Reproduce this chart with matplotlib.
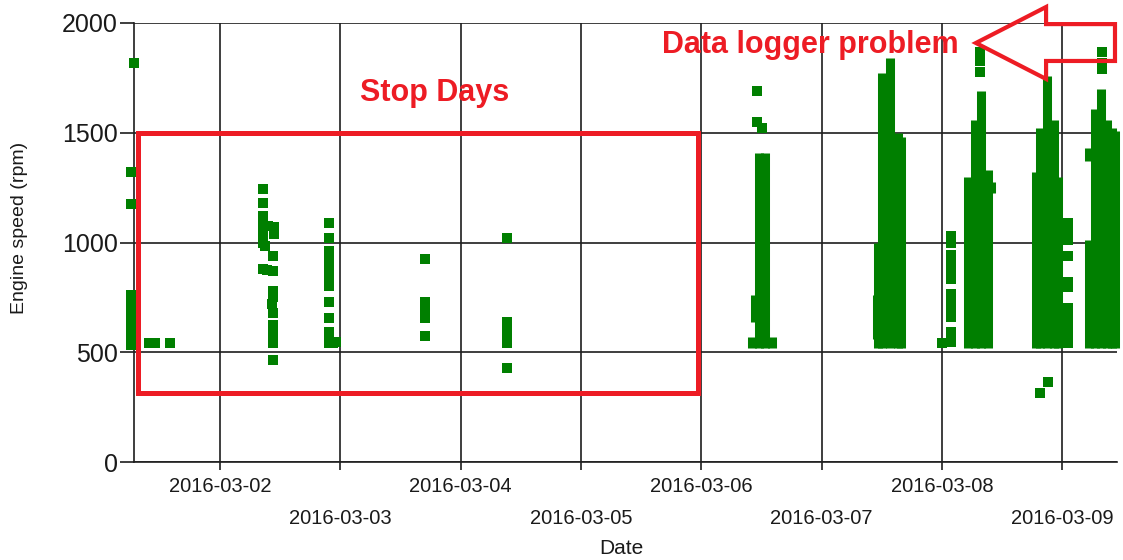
"""
Engine speed log, 2016-03-01 .. 2016-03-09
Scatter of engine rpm against date with the stop days and the logger fault marked.
"""
import numpy as np
import pandas as pd
import matplotlib
matplotlib.use("Agg")
import matplotlib.pyplot as plt
import matplotlib.dates as mdates
from matplotlib.patches import Polygon, Rectangle

START = pd.Timestamp("2016-03-01 00:00")

# single readings: hours after START, engine speed
pt_hours = [6.8, 6.2, 6.2, 6.2, 6.2, 6.2, 6.2, 6.2, 6.2, 6.2, 9.8, 11.0, 14.0,
            32.6, 32.6, 32.6, 32.6, 32.6, 32.6, 32.6, 33.0, 33.6, 34.8, 34.8, 32.6,
            33.4, 34.5, 34.6, 34.6, 34.6, 34.4, 34.6, 34.6, 34.6, 34.6, 34.6, 34.6,
            45.7, 45.7, 45.7, 45.7, 45.7, 45.7, 45.7, 45.7, 45.7, 45.7, 45.7, 45.7,
            45.7, 46.6, 47.1,
            64.9, 64.9, 64.9, 64.9, 64.9, 64.9,
            81.3, 81.3, 81.3, 81.3, 81.3, 81.3, 81.3,
            131.1, 131.1, 132.1,
            169.8, 169.8, 169.8, 169.8, 169.8, 169.8, 169.8, 169.8, 169.8, 169.8,
            169.8, 169.8, 169.8, 169.8, 168.0,
            175.6, 175.6, 175.6,
            187.6, 189.2,
            193.2, 193.2, 193.2, 193.2, 193.2, 193.2, 193.2, 193.2, 193.2, 193.2,
            193.2, 193.2,
            199.9, 199.9, 199.9]
pt_rpm = [1820, 1320, 1175, 760, 720, 680, 640, 600, 560, 535, 540, 540, 540,
          1245, 1180, 1120, 1090, 1060, 1030, 1000, 985, 1075, 1070, 1040, 880,
          875, 870, 940, 780, 750, 720, 680, 625, 580, 560, 540, 465,
          1090, 1020, 960, 930, 900, 870, 845, 800, 730, 655, 590, 555,
          540, 540, 548,
          925, 730, 705, 680, 655, 575,
          1020, 640, 620, 600, 565, 540, 430,
          1690, 1550, 1520,
          1030, 1000, 945, 925, 880, 860, 835, 765, 735, 700,
          660, 590, 560, 545, 540,
          1870, 1825, 1775,
          314, 364,
          1090, 1055, 1010, 940, 820, 795, 700, 665, 620, 580,
          555, 540,
          1870, 1820, 1790]

# dense running periods (overplotted readings): hours, lowest rpm, highest rpm
band_hours = [131.5, 132.7, 130.1, 134.1, 130.8,
              155.3, 156.1, 157.7, 159.3, 159.9, 155.1,
              173.2, 174.6, 175.8, 177.2, 177.8,
              186.8, 187.6, 189.0, 190.4, 191.2,
              197.4, 197.4, 198.6, 199.8, 201.0, 202.0, 202.5]
band_low = [520, 520, 520, 520, 640,
            520, 520, 520, 520, 520, 560,
            520, 520, 520, 520, 1225,
            520, 520, 520, 520, 520,
            520, 1370, 520, 520, 520, 520, 520]
band_high = [1410, 1410, 570, 570, 760,
             1000, 1770, 1840, 1500, 1480, 760,
             1300, 1560, 1690, 1330, 1275,
             1320, 1520, 1760, 1560, 1300,
             1010, 1430, 1610, 1700, 1560, 1520, 1510]

day_ticks = ["2016-03-02", "2016-03-03", "2016-03-04", "2016-03-05",
             "2016-03-06", "2016-03-07", "2016-03-08", "2016-03-09"]
rpm_ticks = [0, 500, 1000, 1500, 2000]


def _t(hours):
    return START + pd.to_timedelta(np.asarray(hours, dtype=float), unit="h")


def _n(hours):
    return mdates.date2num(_t([hours]))[0]


def main():
    plt.rcParams["font.family"] = ["Liberation Sans", "DejaVu Sans"]
    green = "#007f00"
    red = "#ed1c24"
    grid = "#1e1e1e"

    fig = plt.figure(figsize=(11.23, 5.6), dpi=100)
    ax = fig.add_axes([134 / 1123, 1 - 462 / 560, 983 / 1123, 439 / 560])

    ax.set_xlim(_t([6.84])[0], _t([202.95])[0])
    ax.set_ylim(0, 2000)

    ax.vlines(_t(band_hours), band_low, band_high, colors=green,
              linewidth=6.5, capstyle="butt", zorder=3, clip_on=False)
    ax.plot(_t(pt_hours), pt_rpm, "s", color=green, ms=6.5, mew=0,
            zorder=3, clip_on=False)

    # x axis: one tick per day, labels staggered over two rows
    days = pd.to_datetime(day_ticks)
    ax.set_xticks(days[0::2])
    ax.set_xticklabels(day_ticks[0::2])
    ax.set_xticks(days[1::2], minor=True)
    ax.set_xticklabels(day_ticks[1::2], minor=True)
    ax.tick_params(axis="x", which="major", length=6, width=1.2, color=grid,
                   pad=5, labelsize=14.5, labelcolor="#1a1a1a")
    ax.tick_params(axis="x", which="minor", length=6, width=1.2, color=grid,
                   pad=28, labelsize=14.5, labelcolor="#1a1a1a")
    ax.set_yticks(rpm_ticks)
    ax.tick_params(axis="y", length=10, width=1.2, color=grid, pad=1.5,
                   labelsize=18, labelcolor="#1a1a1a")
    ax.grid(True, which="both", color=grid, linewidth=1.2)
    ax.set_axisbelow(True)
    for s in ("top", "right"):
        ax.spines[s].set_visible(False)
    for s in ("left", "bottom"):
        ax.spines[s].set_color(grid)
        ax.spines[s].set_linewidth(1.2)

    fig.text(20 / 1123, 1 - 228 / 560, "Engine speed (rpm)", rotation=90,
             ha="center", va="center", fontsize=14, color="#1a1a1a")
    fig.text(621 / 1123, 1 - 548 / 560, "Date", ha="center", va="center",
             fontsize=15, color="#1a1a1a")

    # annotations
    x0, x1 = _n(7.64), _n(119.36)
    ax.add_patch(Rectangle((x0, 314), x1 - x0, 1500 - 314, fill=False,
                           edgecolor=red, linewidth=3.6, zorder=4, clip_on=False))
    ax.text(_t([66.9])[0], 1645, "Stop Days", color=red, fontsize=22,
            fontweight="bold", ha="center", va="baseline", zorder=5)
    ax.text(_t([141.7])[0], 1863, "Data logger problem", color=red, fontsize=22,
            fontweight="bold", ha="center", va="baseline", zorder=5)
    arrow = [(_n(174.8), 1909), (_n(188.8), 2073), (_n(188.8), 1995),
             (_n(202.55), 1995), (_n(202.55), 1827), (_n(188.8), 1827),
             (_n(188.8), 1745)]
    ax.add_patch(Polygon(arrow, closed=True, fill=False, edgecolor=red,
                         linewidth=3, joinstyle="miter", zorder=5, clip_on=False))

    fig.savefig("out.png", dpi=100)
    print("Saved: out.png")


if __name__ == "__main__":
    main()
